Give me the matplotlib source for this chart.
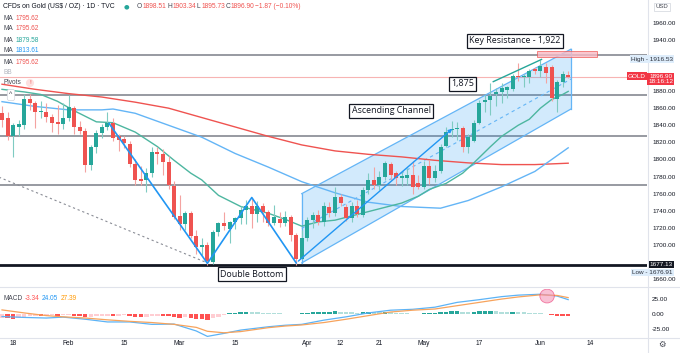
import matplotlib
matplotlib.use("Agg")
import matplotlib.pyplot as plt
import numpy as np
from matplotlib.patches import Rectangle, Polygon, Ellipse
from matplotlib.lines import Line2D

# daily OHLC, gold CFD, 14 Jan - 8 Jun 2021
opens = [1854, 1848, 1828, 1838, 1840, 1871, 1866, 1855, 1856, 1850, 1844, 1842, 1848, 1860, 1838, 1833,
         1794, 1814, 1831, 1838, 1843, 1827, 1824, 1818, 1795, 1777, 1776, 1784, 1809, 1806, 1797, 1769,
         1734, 1724, 1737, 1710, 1698, 1700, 1680, 1715, 1726, 1719, 1727, 1731, 1741, 1745, 1736, 1745,
         1739, 1726, 1730, 1726, 1733, 1712, 1684, 1708, 1729, 1735, 1727, 1744, 1737, 1756, 1744, 1731,
         1746, 1735, 1764, 1776, 1770, 1780, 1795, 1784, 1778, 1778, 1782, 1773, 1768, 1792, 1778, 1787,
         1816, 1834, 1836, 1837, 1815, 1822, 1843, 1867, 1869, 1876, 1879, 1881, 1882, 1898, 1896, 1897,
         1906, 1903, 1908, 1908, 1871, 1891, 1898.51]
highs = [1862, 1856, 1843, 1846, 1876, 1877, 1868, 1868, 1866, 1853, 1864, 1866, 1875, 1862, 1845, 1837,
         1817, 1834, 1842, 1856, 1848, 1830, 1828, 1822, 1800, 1792, 1790, 1814, 1815, 1812, 1804, 1775,
         1759, 1740, 1740, 1718, 1708, 1703, 1718, 1727, 1739, 1728, 1733, 1746, 1752, 1755, 1751, 1749,
         1741, 1747, 1738, 1740, 1735, 1714, 1717, 1733, 1738, 1741, 1750, 1750, 1768, 1760, 1748, 1750,
         1752, 1768, 1784, 1791, 1786, 1798, 1797, 1786, 1786, 1790, 1798, 1782, 1798, 1799, 1793, 1818,
         1838, 1845, 1844, 1839, 1830, 1846, 1869, 1875, 1889, 1884, 1890, 1886, 1900, 1913, 1900, 1906,
         1908, 1916.53, 1913, 1910, 1893, 1903, 1903.34]
lows = [1838, 1823, 1803, 1827, 1836, 1858, 1837, 1848, 1844, 1832, 1830, 1836, 1845, 1830, 1830, 1785,
        1788, 1807, 1825, 1834, 1822, 1810, 1813, 1791, 1770, 1770, 1762, 1780, 1795, 1782, 1765, 1730,
        1717, 1718, 1708, 1690, 1688, 1676.91, 1678, 1710, 1718, 1702, 1719, 1725, 1725, 1720, 1727, 1727,
        1722, 1723, 1721, 1722, 1705, 1677.13, 1683, 1705, 1720, 1723, 1722, 1733, 1734, 1745, 1728, 1727,
        1733, 1733, 1760, 1765, 1764, 1776, 1776, 1770, 1769, 1770, 1760, 1765, 1765, 1771, 1774, 1784,
        1814, 1826, 1823, 1809, 1808, 1820, 1842, 1855, 1852, 1862, 1866, 1872, 1880, 1892, 1885, 1890,
        1900, 1897, 1890, 1868, 1856, 1885, 1895.73]
closes = [1846, 1828, 1840, 1841, 1871, 1866, 1855, 1857, 1850, 1843, 1842, 1848, 1861, 1838, 1833, 1794,
          1814, 1831, 1838, 1843, 1825, 1823, 1819, 1795, 1776, 1775, 1784, 1809, 1806, 1797, 1770, 1733,
          1724, 1737, 1710, 1698, 1700, 1681, 1715, 1726, 1722, 1727, 1731, 1741, 1745, 1736, 1745, 1738,
          1726, 1733, 1726, 1733, 1712, 1684, 1708, 1729, 1735, 1727, 1745, 1737, 1756, 1749, 1731, 1745,
          1736, 1764, 1776, 1770, 1780, 1796, 1782, 1778, 1781, 1782, 1768, 1768, 1792, 1778, 1787, 1815,
          1832, 1836, 1837, 1815, 1826, 1843, 1866, 1869, 1874, 1879, 1883, 1885, 1898, 1897, 1898, 1903,
          1904, 1909, 1901, 1872, 1891, 1900, 1896.90]

# moving averages, sampled along the bars
ma200_idx = [0, 6, 12, 18, 24, 30, 36, 42, 48, 54, 60, 66, 72, 78, 84, 90, 96, 102]
ma200 = [1888, 1882, 1877, 1873, 1867, 1860, 1849, 1838, 1827, 1817, 1810, 1806, 1803, 1799, 1796, 1794,
         1794, 1795.62]
ma20_idx = [0, 4, 7, 10, 13, 17, 20, 24, 28, 31, 34, 36, 39, 43, 48, 51, 54, 57, 60, 63, 66, 69, 72, 75,
            77, 80, 83, 85, 88, 90, 93, 95, 97, 99, 101, 102]
ma20 = [1882, 1879, 1876, 1868, 1857, 1844, 1843, 1832, 1815, 1799, 1784, 1776, 1758, 1745, 1737, 1730,
        1722, 1727, 1729, 1734, 1739, 1744, 1749, 1757, 1765, 1772, 1784, 1796, 1815, 1827, 1840, 1847,
        1860, 1870, 1876, 1879.58]
ma50_idx = [0, 6, 12, 18, 20, 24, 30, 36, 42, 48, 54, 60, 66, 72, 79, 84, 90, 96, 102]
ma50 = [1867.6, 1862, 1858, 1858, 1859, 1854, 1840, 1826, 1807, 1791, 1774, 1761, 1750, 1745, 1743, 1752,
        1768, 1786, 1813.61]

# MACD (12, 26, 9)
macd_idx = [0, 4, 8, 11, 15, 19, 23, 27, 31, 35, 37, 40, 43, 48, 51, 54, 58, 62, 66, 70, 74, 78, 82, 86,
            90, 93, 97, 100, 102]
macd_line = [-4, -5.5, -6.5, -5, -8.5, -13, -13, -17, -16.5, -28, -37, -32, -26.5, -21, -18.5, -17, -10,
             -4.5, 2, 6.5, 8, 11.5, 19.5, 24, 29, 31.5, 33, 30, 24.05]
signal_line = [7, 2, -2.5, -4.5, -6.5, -9.5, -12, -14, -17, -22, -28.5, -31, -29, -22.5, -19.8, -18, -14,
               -8.5, -2.5, 3.5, 6.5, 8.5, 14, 19.5, 25, 28.5, 32, 31, 27.39]
hist = [-6, -7, -7.5, -6, -4.5, -3.5, -3, -3.2, -2.5, -2, -2.5, -2, -1.5, -2.5, -3.2, -5, -4.5, -3.8, -3,
        -2.5, -2.7, -2.5, -2.3, -3.5, -4.8, -5, -4.2, -3, -2.5, -2.6, -3.8, -5.5, -6, -5.5, -6.5, -7.5,
        -8.5, -9, -7, -4.5, -1.5, 1.5, 2.5, 3.2, 3.8, 3.5, 3, 2.5, 2, 1.6, 1.3, 1, 0.8, 0.6, 1.2, 2, 2.8,
        3.2, 4, 4.3, 4.8, 4.2, 3.3, 3, 2.6, 3.5, 4.2, 4, 3.3, 3.6, 3, 2.2, 1.6, 1.2, 0.8, 0.3, 1.3, 1.4,
        1.8, 3, 4.3, 5, 5.2, 4.2, 3.9, 4.3, 5, 5.2, 5.4, 4.8, 4.3, 3.8, 4.1, 3.5, 2.9, 2.6, 2.2, 1.9, 0.9,
        -1.8, -2.8, -3.1, -3.34]

# drawings
levels = [1922, 1875, 1828, 1770]
support = 1677.13
last_price = 1896.90
channel_idx = [54, 102.5]
channel_upper = [1760, 1929]
channel_lower = [1679, 1859]
zigzag_idx = [19.3, 37, 45, 53]
zigzag_price = [1842, 1678.5, 1755.5, 1679]
arrow_idx = [53, 81.5]
arrow_price = [1679, 1838]
trend_idx = [88.5, 97.2]
trend_price = [1891, 1917]
dotted_idx = [-1, 37]
dotted_price = [1780.5, 1679]
resist_idx = [96.4, 107.2]
resist_price = [1919.5, 1927.3]

# price scale ticks; labels hidden where a price tag covers them
price_ticks = list(range(1660, 1961, 20))
covered_ticks = [1680, 1900, 1920]

tick_idx = [2, 12, 22, 32, 42, 55, 61, 68, 76, 86, 97, 106]
tick_text = ["18", "Feb", "15", "Mar", "15", "Apr", "12", "21", "May", "17", "Jun", "14"]

W, H = 680, 353
GREEN, RED = "#26a69a", "#ef5350"
SANS = ["Liberation Sans", "DejaVu Sans"]


def fx(px):
    return px / W


def fy(py):
    return 1 - py / H


fig = plt.figure(figsize=(W / 100, H / 100), dpi=100)
ax = fig.add_axes([0, fy(286), fx(647), fy(0) - fy(286)])
axm = fig.add_axes([0, fy(337), fx(647), fy(289) - fy(337)], sharex=ax)

x = np.arange(len(closes))
up = np.array(closes) >= np.array(opens)
body_col = np.where(up, GREEN, RED)
wick_col = np.where(up, "#7fcbc2", "#f4a3a1")

# reference lines
for lv in levels:
    ax.axhline(lv, color="#7b7e87", lw=1.1, zorder=1)
ax.axhline(support, color="#131722", lw=2.0, zorder=1)
ax.axhline(last_price, color="#f7b4b3", lw=0.8, zorder=1)

# channel
poly = [(channel_idx[0], channel_lower[0]), (channel_idx[1], channel_lower[1]),
        (channel_idx[1], channel_upper[1]), (channel_idx[0], channel_upper[0])]
ax.add_patch(Polygon(poly, closed=True, facecolor="#2196f3", alpha=0.2, edgecolor="none", zorder=2))
ax.plot(channel_idx, channel_upper, color="#64b5f6", lw=0.9, zorder=3)
ax.plot(channel_idx, channel_lower, color="#64b5f6", lw=0.9, zorder=3)
ax.plot([channel_idx[0]] * 2, [channel_lower[0], channel_upper[0]], color="#64b5f6", lw=0.9, zorder=3)
ax.plot([channel_idx[1]] * 2, [channel_lower[1], channel_upper[1]], color="#64b5f6", lw=0.9, zorder=3)
mid = [(a + b) / 2 for a, b in zip(channel_upper, channel_lower)]
ax.plot(channel_idx, mid, color="#64b5f6", lw=0.8, ls=(0, (3, 3)), zorder=3)

ax.add_patch(Rectangle((resist_idx[0], resist_price[0]), resist_idx[1] - resist_idx[0],
                       resist_price[1] - resist_price[0], facecolor="#f8bbc5", alpha=0.8,
                       edgecolor="#ef5350", lw=0.6, zorder=3))

# moving averages
ax.plot(ma200_idx, ma200, color="#ef5350", lw=1.0, zorder=4)
ax.plot(ma50_idx, ma50, color="#64b5f6", lw=1.0, zorder=4)
ax.plot(ma20_idx, ma20, color="#4db6a0", lw=1.0, zorder=4)

# candles
ax.vlines(x, lows, highs, colors=wick_col, lw=0.8, zorder=5)
ax.bar(x, np.array(closes) - np.array(opens), bottom=opens, width=0.72, color=body_col,
       linewidth=0, zorder=6)

# hand drawn lines
ax.plot(dotted_idx, dotted_price, color="#8a8d96", lw=0.8, ls=(0, (2, 2.5)), zorder=4)
ax.plot(zigzag_idx, zigzag_price, color="#2196f3", lw=1.2, zorder=7)
ax.annotate("", xy=(arrow_idx[1], arrow_price[1]), xytext=(arrow_idx[0], arrow_price[0]),
            arrowprops=dict(arrowstyle="-|>", color="#2196f3", lw=1.0, mutation_scale=5), zorder=7)
ax.plot(trend_idx, trend_price, color="#26a69a", lw=1.0, zorder=7)

box = dict(boxstyle="square,pad=0.25", facecolor="white", edgecolor="#131722", lw=0.9)
for txt, xi, yp in [("Key Resistance - 1,922", 92.4, 1938.6), ("1,875", 83, 1888.3),
                    ("Ascending Channel", 70.1, 1856.7), ("Double Bottom", 45, 1666)]:
    ax.text(xi, yp, txt, ha="center", va="center", fontsize=6.4, color="#131722",
            family=["Open Sans", "DejaVu Sans"], bbox=box, zorder=9)

ax.set_xlim(-0.36, 116.2)
ax.set_ylim(1652, 1986.5)
ax.yaxis.tick_right()
ax.set_yticks(price_ticks)
ax.set_yticklabels(["" if v in covered_ticks else f"{v:.2f}" for v in price_ticks])
ax.tick_params(axis="y", length=0, pad=3.6, labelsize=4.6, labelcolor="#131722")
ax.tick_params(axis="x", bottom=False, labelbottom=False)
for lab in ax.get_yticklabels():
    lab.set_family(SANS)
for s in ax.spines.values():
    s.set_visible(False)

# MACD panel
hcol = []
for i, h in enumerate(hist):
    prev = hist[i - 1] if i else h
    if h >= 0:
        hcol.append("#26a69a" if h > prev else "#b2dfdb")
    else:
        hcol.append("#ff5252" if h < prev else "#ffcdd2")
axm.bar(x, hist, width=0.8, color=hcol, linewidth=0, zorder=2)
axm.plot(macd_idx, macd_line, color="#5cb3f6", lw=0.9, zorder=3)
axm.plot(macd_idx, signal_line, color="#f7a35c", lw=0.9, zorder=3)
axm.add_patch(Ellipse((98.2, 30), 2.6, 23, facecolor="#f48fb1", alpha=0.55, edgecolor="#e91e63",
                      lw=0.6, zorder=4))
axm.set_ylim(-38, 41.7)
axm.yaxis.tick_right()
axm.set_yticks([-25, 0, 25])
axm.set_yticklabels(["-25.00", "0.00", "25.00"])
axm.tick_params(axis="y", length=0, pad=3.6, labelsize=4.6, labelcolor="#131722")
axm.set_xticks(tick_idx)
axm.set_xticklabels(tick_text)
axm.tick_params(axis="x", length=0, pad=2.5, labelsize=4.8, labelcolor="#131722")
for lab in axm.get_xticklabels() + axm.get_yticklabels():
    lab.set_family(SANS)
for s in axm.spines.values():
    s.set_visible(False)

# frame lines
for coords in [([fx(647.5)] * 2, [0, 1]), ([0, 1], [fy(286.5)] * 2), ([0, 1], [fy(337.5)] * 2)]:
    fig.add_artist(Line2D(coords[0], coords[1], color="#e0e3eb", lw=0.8))

renderer = fig.canvas.get_renderer()


def chain(px, py, parts, size, gap=2.0):
    for s, c in parts:
        t = fig.text(fx(px), fy(py), s, color=c, fontsize=size, va="center", ha="left", family=SANS)
        px += t.get_window_extent(renderer=renderer).width + gap


chain(3, 7, [("CFDs on Gold (US$ / OZ) · 1D · TVC", "#131722")], 4.9)
fig.text(fx(126), fy(7), "●", color=GREEN, fontsize=4.6, ha="center", va="center",
         family="DejaVu Sans")
chain(137, 7, [("O", "#434651"), ("1898.51", RED), ("H", "#434651"), ("1903.34", RED),
               ("L", "#434651"), ("1895.73", RED), ("C", "#434651"), ("1896.90", RED),
               ("−1.87 (−0.10%)", RED)], 4.8, gap=0.6)
for py, val, col in [(18, "1795.62", RED), (29, "1795.62", RED), (40, "1879.58", GREEN),
                     (51, "1813.61", "#2196f3"), (62, "1795.62", RED)]:
    chain(3, py, [("MA", "#434651"), (val, col)], 4.7, gap=3)
chain(3, 72, [("BB", "#b2b5be")], 4.7)
chain(3, 83, [("Pivots", "#434651")], 4.7)
fig.text(fx(30), fy(83), "!", color=RED, fontsize=4.5, ha="center", va="center", family=SANS,
         bbox=dict(boxstyle="circle,pad=0.25", facecolor="#fde0e0", edgecolor="none"))
fig.text(fx(11), fy(95), "^", color="#434651", fontsize=5, ha="center", va="center", family=SANS,
         bbox=dict(boxstyle="round,pad=0.3", facecolor="white", edgecolor="#d1d4dc", lw=0.5))
chain(3, 298, [("MACD", "#434651"), ("-3.34", "#ff5252"), ("24.05", "#2196f3"), ("27.39", "#ff9800")],
      4.7, gap=2.5)

# price scale tags
tag = dict(boxstyle="square,pad=0.2", edgecolor="none")
fig.text(fx(662), fy(7), "USD", fontsize=4.3, color="#434651", ha="center", va="center", family=SANS,
         bbox=dict(boxstyle="square,pad=0.3", facecolor="white", edgecolor="#d1d4dc", lw=0.5))
fig.text(fx(673), fy(59), "High - 1916.53", fontsize=4.6, color="#2a2e39", ha="right", va="center",
         family=SANS, bbox=dict(tag, facecolor="#deedfb"))
fig.text(fx(646), fy(76), "GOLD", fontsize=4.6, color="white", ha="right", va="center", family=SANS,
         bbox=dict(tag, facecolor="#f23645"))
fig.text(fx(673), fy(79), "1896.90\n18:16:12", fontsize=4.6, color="white", ha="right", va="center",
         family=SANS, linespacing=1.0, bbox=dict(tag, facecolor="#f23645"))
fig.text(fx(673), fy(264.5), "1677.13", fontsize=4.6, color="white", ha="right", va="center",
         family=SANS, bbox=dict(tag, facecolor="#131722"))
fig.text(fx(673), fy(272.5), "Low - 1676.91", fontsize=4.6, color="#2a2e39", ha="right", va="center",
         family=SANS, bbox=dict(tag, facecolor="#deedfb"))
fig.text(fx(662), fy(344), "⚙", fontsize=6, color="#434651", ha="center", va="center",
         family="DejaVu Sans")

fig.savefig("out.png", dpi=100)
